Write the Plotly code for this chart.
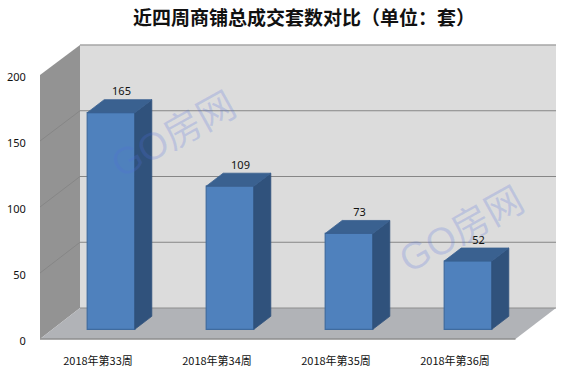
import plotly.graph_objects as go

# ---- data ----
weeks = ["2018年第33周", "2018年第34周", "2018年第35周", "2018年第36周"]
deals = [165, 109, 73, 52]
y_ticks = [0, 50, 100, 150, 200]
title_text = "近四周商铺总成交套数对比（单位：套）"
watermark = "GO房网"

W, H = 567, 373

# ---- geometry (window pixels) ----
CAT_STEP = 119.0          # px per category
BAR_X0 = 111.0            # px centre of first bar's front face
BAR_W = 47.6              # px
BAR_BASE = 329.3          # px of bar front bottom
BAR_SCALE = 1.313         # px per unit
DEPTH_X, DEPTH_Y = 17.0, 13.0   # bar depth

WALL_X0, WALL_X1 = 80.0, 556.0    # back wall
FRONT_X0, FRONT_X1 = 40.0, 515.5  # floor front edge
BACK_BASE, BACK_SCALE = 308.0, 1.315
FRONT_BASE, FRONT_SCALE = 339.0, 1.32
YMAX = 200


def px(x):
    return x / W


def py(y):
    return 1 - y / H


def back_y(v):
    return BACK_BASE - BACK_SCALE * v


def front_y(v):
    return FRONT_BASE - FRONT_SCALE * v


def poly(points, fill, line=None, width=0):
    path = "M" + " L".join(f"{px(x):.5f},{py(y):.5f}" for x, y in points) + " Z"
    return dict(type="path", xref="paper", yref="paper", path=path, fillcolor=fill,
                line=dict(color=line or fill, width=width), layer="below")


def seg(x0, y0, x1, y1, color, width=1):
    return dict(type="line", xref="paper", yref="paper", x0=px(x0), y0=py(y0), x1=px(x1), y1=py(y1),
                line=dict(color=color, width=width), layer="below")


shapes = [
    # back wall
    poly([(WALL_X0, back_y(YMAX)), (WALL_X1, back_y(YMAX)), (WALL_X1, back_y(0)), (WALL_X0, back_y(0))], "#dcdcdc"),
    # left wall
    poly([(FRONT_X0, front_y(YMAX)), (WALL_X0, back_y(YMAX)), (WALL_X0, back_y(0)), (FRONT_X0, front_y(0))], "#939393"),
    # floor
    poly([(FRONT_X0, front_y(0)), (WALL_X0, back_y(0)), (WALL_X1, back_y(0)), (FRONT_X1, front_y(0))], "#b1b3b7"),
    seg(WALL_X0, back_y(YMAX), WALL_X1, back_y(YMAX), "#a6a6a6", 1.5),
    seg(FRONT_X0, front_y(0), FRONT_X1, front_y(0), "#8e8e8e", 1.5),
    seg(WALL_X0, back_y(0), WALL_X1, back_y(0), "#8e8e8e", 1),
]
for v in y_ticks[1:-1]:
    shapes.append(seg(FRONT_X0, front_y(v), WALL_X0, back_y(v), "#868686", 1))
    shapes.append(seg(WALL_X0, back_y(v), WALL_X1, back_y(v), "#868686", 1.2))

# main data axes: 1 category = CAT_STEP px, 1 unit = BAR_SCALE px
x_range = [-BAR_X0 / CAT_STEP, (W - BAR_X0) / CAT_STEP]
y_range = [-(H - BAR_BASE) / BAR_SCALE, BAR_BASE / BAR_SCALE]
bw = BAR_W / CAT_STEP
dx = DEPTH_X / CAT_STEP
dy = DEPTH_Y / BAR_SCALE

fig = go.Figure()

for i, v in enumerate(deals):
    l, r = i - bw / 2, i + bw / 2
    # side face
    fig.add_trace(go.Scatter(x=[r, r + dx, r + dx, r, r], y=[0, dy, v + dy, v, 0], mode="lines",
                             fill="toself", fillcolor="#30527c", line=dict(color="#30527c", width=0.8),
                             hoverinfo="skip", showlegend=False))
    # top face
    fig.add_trace(go.Scatter(x=[l, l + dx, r + dx, r, l], y=[v, v + dy, v + dy, v, v], mode="lines",
                             fill="toself", fillcolor="#3a6190", line=dict(color="#3a6190", width=0.8),
                             hoverinfo="skip", showlegend=False))

# front faces
fig.add_trace(go.Bar(x=list(range(len(deals))), y=deals, width=bw, marker=dict(color="#4f81bd",
                     line=dict(color="#3f6b9f", width=1.2)), hoverinfo="skip", showlegend=False))

# value labels
fig.add_trace(go.Scatter(x=[i + 10.5 / CAT_STEP for i in range(len(deals))],
                         y=[v + dy + 7 / BAR_SCALE for v in deals],
                         mode="text", text=[str(v) for v in deals], textposition="middle center",
                         textfont=dict(family="Noto Sans, sans-serif", size=11, color="#111111"),
                         hoverinfo="skip", showlegend=False))

# helper trace that carries the outer tick axes
fig.add_trace(go.Scatter(x=list(range(len(weeks))), y=deals, xaxis="x2", yaxis="y2", mode="markers",
                         marker=dict(opacity=0, size=1), hoverinfo="skip", showlegend=False))

wm_font = dict(family="Liberation Sans, Noto Sans CJK SC, sans-serif", size=38, color="rgba(80,110,220,0.22)")

fig.update_layout(
    width=W, height=H, autosize=False,
    margin=dict(l=0, r=0, t=0, b=0),
    paper_bgcolor="white", plot_bgcolor="rgba(0,0,0,0)",
    shapes=shapes,
    xaxis=dict(range=x_range, domain=[0, 1], visible=False, fixedrange=True),
    yaxis=dict(range=y_range, domain=[0, 1], visible=False, fixedrange=True),
    xaxis2=dict(range=[-98.0 / CAT_STEP, (W - 98.0) / CAT_STEP], overlaying="x", anchor="free",
                position=py(FRONT_BASE), side="bottom", tickvals=list(range(len(weeks))), ticktext=weeks,
                showgrid=False, zeroline=False, showline=False, ticks="outside", ticklen=12,
                tickcolor="rgba(0,0,0,0)", tickangle=0,
                tickfont=dict(family="Noto Sans CJK SC, sans-serif", size=11, color="#111111")),
    yaxis2=dict(range=[-(H - FRONT_BASE - 2) / FRONT_SCALE, (FRONT_BASE + 2) / FRONT_SCALE],
                overlaying="y", anchor="free",
                position=px(FRONT_X0), side="left", tickvals=y_ticks, showgrid=False, zeroline=False,
                showline=False, ticks="outside", ticklen=12, tickcolor="rgba(0,0,0,0)",
                tickfont=dict(family="Noto Sans, sans-serif", size=11, color="#111111")),
    annotations=[
        dict(text=f"<b>{title_text}</b>", xref="paper", yref="paper", x=px(304), y=py(16), showarrow=False,
             xanchor="center", yanchor="middle",
             font=dict(family="Noto Sans CJK SC, sans-serif", size=19, color="#111111")),
        dict(text=watermark, xref="paper", yref="paper", x=px(173), y=py(135), showarrow=False, textangle=-29,
             xanchor="center", yanchor="middle", font=wm_font),
        dict(text=watermark, xref="paper", yref="paper", x=px(461), y=py(230), showarrow=False, textangle=-29,
             xanchor="center", yanchor="middle", font=wm_font),
    ],
)

# drop the browser's default page margin so the figure fills the window exactly
fig.write_html("out.html", config={"displayModeBar": False}, post_script="document.body.style.margin='0';")
